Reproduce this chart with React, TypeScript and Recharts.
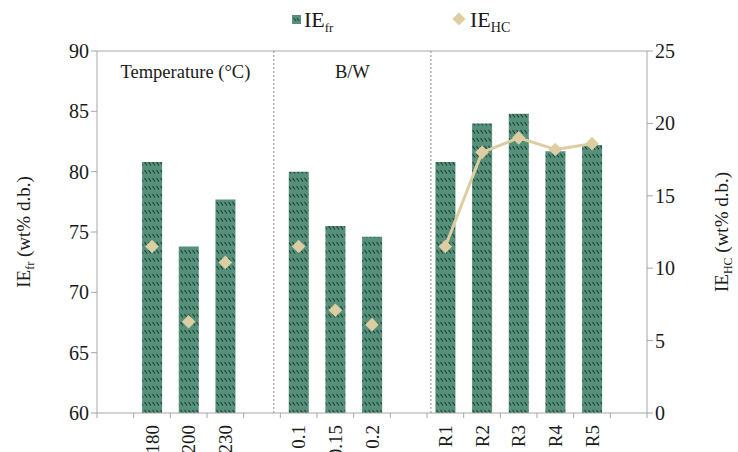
import React from "react";
import {
  ComposedChart,
  Bar,
  Line,
  XAxis,
  YAxis,
  ReferenceLine,
  ReferenceArea,
  Legend,
} from "recharts";

// ---------- data ----------
const categories = ["g0", "180", "200", "230", "g4", "0.1", "0.15", "0.2", "g8", "R1", "R2", "R3", "R4", "R5", "g14"];
const ieFr = [null, 80.8, 73.8, 77.7, null, 80.0, 75.5, 74.6, null, 80.8, 84.0, 84.8, 81.7, 82.2, null];
const ieHcPoints = [null, 11.5, 6.3, 10.4, null, 11.5, 7.1, 6.1, null, null, null, null, null, null, null];
const ieHcRecycles = [null, null, null, null, null, null, null, null, null, 11.5, 18.0, 19.0, 18.2, 18.6, null];
const leftTicks = [60, 65, 70, 75, 80, 85, 90];
const rightTicks = [0, 5, 10, 15, 20, 25];
const sectionTitles = ["Temperature (°C)", "B/W", "Consecutive PW recycles"];
const sectionBounds = [
  [0, 4.5],
  [4.5, 8.5],
  [8.5, 15],
];
const dividers = [4.5, 8.5];

const data = categories.map((c, i) => ({
  cat: c,
  ieFr: ieFr[i],
  ieHcPts: ieHcPoints[i],
  ieHcRec: ieHcRecycles[i],
}));

// ---------- styles ----------
const SERIF = "'Liberation Serif', 'Times New Roman', Times, serif";
const FONT = { fontFamily: SERIF };
const BAR_BASE = "#55907a";
const HATCH = "#1d3b2e";
const HC_COLOR = "#dccda2";
const AXIS = "#a6a6a6";
const TEXT = "#1a1a1a";
const W = 738;
const H = 452;
const TICK_SIZE = 5;
const TICK_MARGIN = 7;

const XTick = (props: any) => {
  const { x, y, payload, index } = props;
  const half = payload && payload.offset ? payload.offset : 18.33;
  const axisY = y - TICK_SIZE - TICK_MARGIN;
  const v = String(payload.value);
  const label = v.startsWith("g") ? "" : v;
  return (
    <g>
      <line x1={x - half} x2={x - half} y1={axisY} y2={axisY + TICK_SIZE} stroke={AXIS} />
      {index === categories.length - 1 ? (
        <line x1={x + half} x2={x + half} y1={axisY} y2={axisY + TICK_SIZE} stroke={AXIS} />
      ) : null}
      {label ? (
        <text
          transform={`translate(${x},${y}) rotate(-90)`}
          textAnchor="end"
          dy="0.35em"
          style={{ fontFamily: SERIF, fontSize: 19 }}
          fill={TEXT}
        >
          {label}
        </text>
      ) : null}
    </g>
  );
};

const YTick = (props: any) => {
  const { x, y, payload, textAnchor } = props;
  return (
    <text x={x} y={y} dy="0.35em" textAnchor={textAnchor} style={{ fontFamily: SERIF, fontSize: 20 }} fill={TEXT}>
      {payload.value}
    </text>
  );
};

const Diamond = (props: any) => {
  const { cx, cy, index } = props;
  if (cx == null || cy == null || props.value == null) return <g key={`d${index}`} />;
  const r = 6.8;
  return (
    <polygon
      key={`d${index}`}
      points={`${cx},${cy - r} ${cx + r},${cy} ${cx},${cy + r} ${cx - r},${cy}`}
      fill={HC_COLOR}
    />
  );
};

const AxisTitle = (sub: string, dxFromAxis: number) => (props: any) => {
  const vb = props.viewBox || {};
  const cx = (vb.x || 0) + dxFromAxis;
  const cy = (vb.y || 0) + (vb.height || 0) / 2;
  return (
    <text
      transform={`translate(${cx},${cy}) rotate(-90)`}
      textAnchor="middle"
      dy="0.35em"
      style={{ fontFamily: SERIF, fontSize: 19 }}
      fill={TEXT}
    >
      IE
      <tspan style={{ fontSize: 12 }} dy={4}>{sub}</tspan>
      <tspan dy={-4}> (wt% d.b.)</tspan>
    </text>
  );
};

const SectionTitle = (title: string) => (props: any) => {
  const vb = props.viewBox || {};
  const cx = (vb.x || 0) + (vb.width || 0) / 2;
  return (
    <text x={cx} y={(vb.y || 0) + 27} textAnchor="middle" style={{ fontFamily: SERIF, fontSize: 18.5 }} fill={TEXT}>
      {title}
    </text>
  );
};

const LegendContent = () => (
  <div style={{ position: "relative", width: W, height: 40, fontFamily: SERIF, color: TEXT }}>
    <svg style={{ position: "absolute", left: 292, top: 15 }} width={9} height={9}>
      <rect width={9} height={9} fill={BAR_BASE} />
      <line x1={2} y1={3} x2={4} y2={6} stroke={HATCH} strokeWidth={1} />
      <line x1={5} y1={3} x2={7} y2={6} stroke={HATCH} strokeWidth={1} />
    </svg>
    <span style={{ position: "absolute", left: 304, top: 7, fontSize: 22, lineHeight: "26px", whiteSpace: "nowrap" }}>
      IE<span style={{ fontSize: 13, position: "relative", top: 5 }}>fr</span>
    </span>
    <svg style={{ position: "absolute", left: 452, top: 12 }} width={14} height={14}>
      <polygon points="7,0.5 13.5,7 7,13.5 0.5,7" fill={HC_COLOR} />
    </svg>
    <span style={{ position: "absolute", left: 470, top: 7, fontSize: 22, lineHeight: "26px", whiteSpace: "nowrap" }}>
      IE<span style={{ fontSize: 14, position: "relative", top: 5 }}>HC</span>
    </span>
  </div>
);

export default function App() {
  return (
    <div style={{ position: "absolute", left: 0, top: 0, width: W, height: H, background: "#fff", fontFamily: SERIF }}>
      <ComposedChart
        width={W}
        height={H}
        data={data}
        margin={{ top: 11, right: 0, bottom: 0, left: 0 }}
        barCategoryGap="23%"
        style={FONT}
      >
        <defs>
          <pattern id="hatch" patternUnits="userSpaceOnUse" width={4} height={8}>
            <rect width={4} height={8} fill={BAR_BASE} />
            <line x1={0.5} y1={2} x2={3} y2={5.5} stroke={HATCH} strokeWidth={1.1} />
          </pattern>
        </defs>
        <Legend
          verticalAlign="top"
          align="left"
          height={40}
          wrapperStyle={{ left: 0, top: 0, width: W, height: 40 }}
          content={<LegendContent />}
        />
        <XAxis
          xAxisId="cat"
          dataKey="cat"
          type="category"
          interval={0}
          height={39}
          axisLine={{ stroke: AXIS }}
          tickLine={false}
          tickSize={TICK_SIZE}
          tickMargin={TICK_MARGIN}
          tick={<XTick />}
        />
        <XAxis xAxisId="num" type="number" domain={[0, 15]} hide allowDataOverflow />
        <YAxis
          yAxisId="left"
          orientation="left"
          width={97}
          domain={[60, 90]}
          ticks={leftTicks}
          interval={0}
          axisLine={{ stroke: AXIS }}
          tickLine={{ stroke: AXIS }}
          tickSize={6}
          tick={<YTick />}
          label={AxisTitle("fr", 23)}
        />
        <YAxis
          yAxisId="right"
          orientation="right"
          width={91}
          domain={[0, 25]}
          ticks={rightTicks}
          interval={0}
          axisLine={{ stroke: AXIS }}
          tickLine={{ stroke: AXIS }}
          tickSize={6}
          tick={<YTick />}
          label={AxisTitle("HC", 74)}
        />
        <ReferenceLine yAxisId="left" xAxisId="cat" y={90} stroke={AXIS} strokeWidth={1} />
        {dividers.map((d) => (
          <ReferenceLine
            key={`div${d}`}
            xAxisId="num"
            yAxisId="left"
            x={d}
            stroke="#8c8c8c"
            strokeDasharray="2 2"
            strokeWidth={1}
          />
        ))}
        {sectionTitles.map((t, i) => (
          <ReferenceArea
            key={t}
            xAxisId="num"
            yAxisId="left"
            x1={sectionBounds[i][0]}
            x2={sectionBounds[i][1]}
            y1={60}
            y2={90}
            fill="none"
            fillOpacity={0}
            stroke="none"
            label={SectionTitle(t)}
          />
        ))}
        <Bar
          xAxisId="cat"
          yAxisId="left"
          dataKey="ieFr"
          name="IEfr"
          fill="url(#hatch)"
          isAnimationActive={false}
        />
        <Line
          xAxisId="cat"
          yAxisId="right"
          dataKey="ieHcPts"
          name="IEHC"
          stroke="none"
          strokeWidth={0}
          dot={Diamond}
          activeDot={false}
          connectNulls={false}
          isAnimationActive={false}
        />
        <Line
          xAxisId="cat"
          yAxisId="right"
          dataKey="ieHcRec"
          name="IEHC line"
          stroke={HC_COLOR}
          strokeWidth={3}
          dot={Diamond}
          activeDot={false}
          connectNulls={false}
          isAnimationActive={false}
        />
      </ComposedChart>
    </div>
  );
}
